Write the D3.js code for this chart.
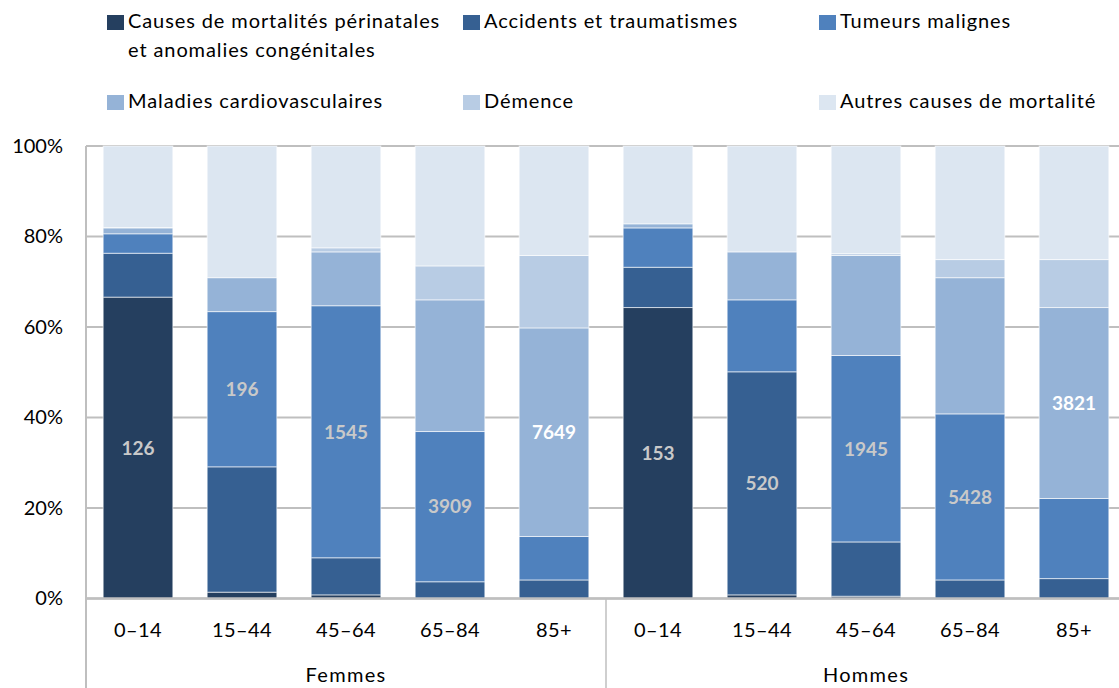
<!DOCTYPE html>
<html>
<head>
<meta charset="utf-8">
<script src="https://cdn.jsdelivr.net/npm/d3@7"></script>
<style>
  html, body { margin: 0; padding: 0; background: #ffffff; }
  svg { display: block; font-family: Lato, "Liberation Sans", sans-serif; }
</style>
</head>
<body>
<svg id="chart" width="1119" height="688"></svg>
<script>
// Groups and age bands on the two-level category axis
const groups = ["Femmes", "Hommes"];
const ageBands = ["0–14", "15–44", "45–64", "65–84", "85+"];

// Causes of death (stack order, bottom to top)
const causes = [
  "Causes de mortalités périnatales et anomalies congénitales",
  "Accidents et traumatismes",
  "Tumeurs malignes",
  "Maladies cardiovasculaires",
  "Démence",
  "Autres causes de mortalité"
];
const causeColors = ["#253f5f", "#366092", "#4f81bd", "#95b3d7", "#b8cce4", "#dce6f1"];

// Share of deaths (%) per bar: Femmes 0–14 … 85+, then Hommes 0–14 … 85+
const perinatal  = [66.6,  1.4,  0.8,  0.0,  0.0, 64.3,  0.8,  0.5,  0.0,  0.0];
const accidents  = [ 9.7, 27.7,  8.2,  3.7,  4.1,  8.9, 49.3, 12.0,  4.1,  4.4];
const tumeurs    = [ 4.3, 34.3, 55.7, 33.2,  9.6,  8.7, 15.9, 41.2, 36.7, 17.7];
const cardio     = [ 1.3,  7.5, 11.9, 29.1, 46.1,  0.9, 10.6, 22.1, 30.1, 42.2];
const demence    = [ 0.1,  0.0,  0.9,  7.5, 16.0,  0.0,  0.0,  0.4,  4.0, 10.6];
const autres     = [18.0, 29.1, 22.5, 26.5, 24.2, 17.2, 23.4, 23.8, 25.1, 25.1];

// Number of deaths for the leading cause of each bar, and which cause it is
const leadingCount = [126, 196, 1545, 3909, 7649, 153, 520, 1945, 5428, 3821];
const leadingCause = [0, 2, 2, 2, 3, 0, 1, 2, 2, 3];

// Y axis ticks
const yTicks = [0, 20, 40, 60, 80, 100];

const seriesValues = [perinatal, accidents, tumeurs, cardio, demence, autres];

const rows = [];
groups.forEach((g, gi) => {
  ageBands.forEach((a, ai) => {
    const i = gi * ageBands.length + ai;
    const row = { id: i, group: g, age: a };
    causes.forEach((c, ci) => { row[c] = seriesValues[ci][i]; });
    rows.push(row);
  });
});

const svg = d3.select("#chart");

const plotLeft = 86, plotRight = 1126, plotTop = 146, plotBottom = 598.5;

const x = d3.scaleBand()
  .domain(rows.map(d => d.id))
  .range([plotLeft, plotRight])
  .paddingInner(0.33)
  .paddingOuter(0.165);

const y = d3.scaleLinear().domain([0, 100]).range([plotBottom, plotTop]);

const gridColor = "#bfbfbf";

// Horizontal gridlines
svg.append("g")
  .selectAll("line")
  .data(yTicks)
  .join("line")
  .attr("x1", plotLeft).attr("x2", 1119)
  .attr("y1", d => y(d)).attr("y2", d => y(d))
  .attr("stroke", gridColor)
  .attr("stroke-width", 2);

// Y axis labels
const yAxis = d3.axisLeft(y).tickValues(yTicks).tickFormat(d => d + "%").tickSize(0).tickPadding(23);
const yG = svg.append("g").attr("transform", `translate(${plotLeft},0)`).call(yAxis);
yG.select(".domain").remove();
yG.selectAll("text")
  .attr("font-family", "Lato, sans-serif")
  .attr("font-size", 20)
  .attr("fill", "#000");

// Stacked bars
const stack = d3.stack().keys(causes);
const stacked = stack(rows);

svg.append("g")
  .selectAll("g")
  .data(stacked)
  .join("g")
  .attr("fill", (d, i) => causeColors[i])
  .selectAll("rect")
  .data(d => d.filter(s => s[1] - s[0] > 0))
  .join("rect")
  .attr("x", d => x(d.data.id))
  .attr("width", x.bandwidth())
  .attr("y", d => y(d[1]))
  .attr("height", d => y(d[0]) - y(d[1]))
  .attr("stroke", "#ffffff")
  .attr("stroke-opacity", 0.6)
  .attr("stroke-width", 1);

// Death counts on the leading cause of each bar
svg.append("g")
  .selectAll("text")
  .data(rows)
  .join("text")
  .attr("x", d => x(d.id) + x.bandwidth() / 2)
  .attr("y", d => {
    const seg = stacked[leadingCause[d.id]][d.id];
    return y((seg[0] + seg[1]) / 2);
  })
  .attr("dy", "0.36em")
  .attr("text-anchor", "middle")
  .attr("font-size", 19)
  .attr("font-weight", "bold")
  .attr("fill", d => leadingCause[d.id] === 3 ? "#ffffff" : "#c9c9c9")
  .text(d => leadingCount[d.id]);

// Axis lines: left axis, baseline, group separator
svg.append("line")
  .attr("x1", plotLeft).attr("x2", plotLeft)
  .attr("y1", plotTop).attr("y2", 688)
  .attr("stroke", gridColor).attr("stroke-width", 2);
svg.append("line")
  .attr("x1", plotLeft).attr("x2", 1119)
  .attr("y1", plotBottom).attr("y2", plotBottom)
  .attr("stroke", gridColor).attr("stroke-width", 2.5);
const sepX = (x(ageBands.length - 1) + x.bandwidth() + x(ageBands.length)) / 2;
svg.append("line")
  .attr("x1", sepX).attr("x2", sepX)
  .attr("y1", plotBottom).attr("y2", 688)
  .attr("stroke", gridColor).attr("stroke-width", 1.5);

// Age band labels
svg.append("g")
  .selectAll("text")
  .data(rows)
  .join("text")
  .attr("x", d => x(d.id) + x.bandwidth() / 2)
  .attr("y", 637)
  .attr("text-anchor", "middle")
  .attr("font-size", 20)
  .attr("letter-spacing", 0.4)
  .attr("fill", "#000")
  .text(d => d.age);

// Group labels
svg.append("g")
  .selectAll("text")
  .data(groups)
  .join("text")
  .attr("x", (g, gi) => {
    const first = x(gi * ageBands.length);
    const last = x(gi * ageBands.length + ageBands.length - 1) + x.bandwidth();
    return (first + last) / 2;
  })
  .attr("y", 682)
  .attr("text-anchor", "middle")
  .attr("font-size", 20)
  .attr("letter-spacing", 1.3)
  .attr("fill", "#000")
  .text(g => g);

// Legend: three columns, two rows
const legendCols = [107, 463, 819];
const legendRows = [28, 108];
const legendLines = [
  ["Causes de mortalités périnatales", "et anomalies congénitales"],
  ["Accidents et traumatismes"],
  ["Tumeurs malignes"],
  ["Maladies cardiovasculaires"],
  ["Démence"],
  ["Autres causes de mortalité"]
];
const legend = svg.append("g")
  .selectAll("g")
  .data(causes)
  .join("g")
  .attr("transform", (d, i) => `translate(${legendCols[i % 3]},${legendRows[Math.floor(i / 3)]})`);
legend.append("rect")
  .attr("x", 0).attr("y", -13)
  .attr("width", 17).attr("height", 15)
  .attr("fill", (d, i) => causeColors[i]);
legend.append("text")
  .attr("font-size", 20)
  .attr("letter-spacing", 0.9)
  .attr("fill", "#000")
  .selectAll("tspan")
  .data((d, i) => legendLines[i])
  .join("tspan")
  .attr("x", 21)
  .attr("dy", (d, j) => j === 0 ? 0 : 29)
  .text(d => d);
</script>
</body>
</html>
